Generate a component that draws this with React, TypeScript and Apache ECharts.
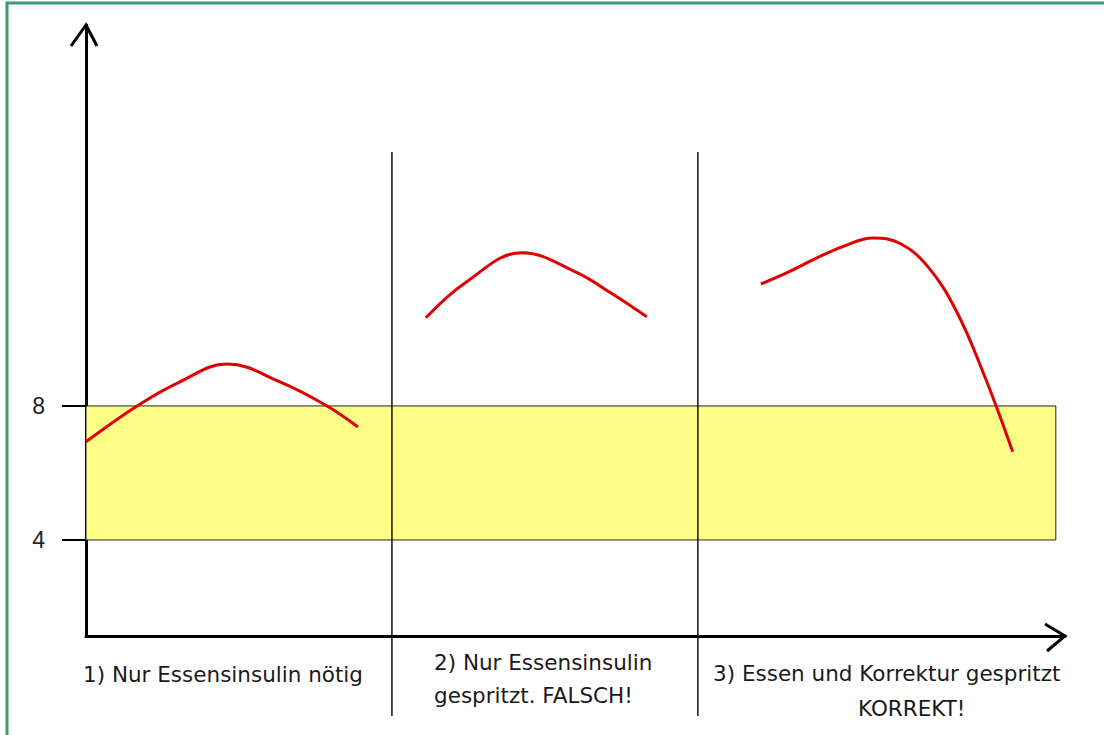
import React, { useEffect, useRef } from "react";
import * as echarts from "echarts";

// ---- data ----
const yTickValues = [4, 8];
const targetRange = [4, 8];
const sectionBounds = [10, 20];
const xMin = 0;
const xMax = 32;
const yMin = 1.134;
const yMax = 19.37;
const bandEnd = 31.7;
const dividerTop = 15.58;

const curve1X = [0, 1.67, 3.07, 4.61, 6.34, 7.88, 8.89];
const curve1Y = [6.93, 8.0, 8.72, 9.25, 8.72, 8.0, 7.37];
const curve2X = [11.11, 12.4, 14.25, 16.0, 17.16, 18.33];
const curve2Y = [10.63, 11.68, 12.57, 12.0, 11.37, 10.66];
const curve3X = [22.06, 22.97, 23.89, 24.8, 25.72, 26.63, 27.55, 28.46, 29.38, 30.29];
const curve3Y = [11.64, 12.0, 12.42, 12.78, 13.01, 12.84, 12.12, 10.81, 8.87, 6.63];

const sectionLabels = [
  ["1) Nur Essensinsulin nötig"],
  ["2) Nur Essensinsulin", "gespritzt. FALSCH!"],
  ["3) Essen und Korrektur gespritzt", "KORREKT!"],
];

const zip = (xs: number[], ys: number[]) => xs.map((x, i) => [x, ys[i]]);

const RED = "#e00000";
const FONT = "DejaVu Sans";

export default function App() {
  const ref = useRef<HTMLDivElement>(null);
  useEffect(() => {
    if (!ref.current) return;
    const chart = echarts.init(ref.current, null, { renderer: "svg" });
    const lineSeries = (name: string, data: number[][]) => ({
      name,
      type: "line",
      data,
      smooth: 0.4,
      showSymbol: false,
      symbol: "none",
      lineStyle: { color: RED, width: 3 },
      z: 5,
    });
    chart.setOption({
      animation: false,
      backgroundColor: "#ffffff",
      grid: { left: 86, right: 39, top: 25, bottom: 99, containLabel: false },
      xAxis: {
        type: "value",
        min: xMin,
        max: xMax,
        axisLine: { show: true, lineStyle: { color: "#000", width: 3 } },
        axisTick: { show: false },
        axisLabel: { show: false },
        splitLine: { show: false },
      },
      yAxis: {
        type: "value",
        min: yMin,
        max: yMax,
        axisLine: { show: true, lineStyle: { color: "#000", width: 3 } },
        axisTick: {
          show: true,
          length: 24,
          customValues: yTickValues,
          lineStyle: { color: "#000", width: 2 },
        },
        axisLabel: {
          show: true,
          customValues: yTickValues,
          margin: 41,
          color: "#222",
          fontFamily: "Liberation Sans",
          fontSize: 23,
        },
        splitLine: { show: false },
      },
      series: [
        {
          name: "band",
          type: "line",
          data: [],
          markArea: {
            silent: true,
            itemStyle: { color: "#ffff88", borderColor: "#222", borderWidth: 1 },
            data: [[{ xAxis: xMin, yAxis: targetRange[1] }, { xAxis: bandEnd, yAxis: targetRange[0] }]],
          },
          z: 1,
        },
        lineSeries("1", zip(curve1X, curve1Y)),
        lineSeries("2", zip(curve2X, curve2Y)),
        lineSeries("3", zip(curve3X, curve3Y)),
      ],
    });

    const px = (x: number, y: number) => chart.convertToPixel({ gridIndex: 0 }, [x, y]) as number[];
    const origin = px(xMin, yMin);
    const yTop = px(xMin, yMax);
    const xEnd = px(xMax, yMin);
    const graphics: any[] = [];
    // green frame
    graphics.push({
      type: "rect",
      shape: { x: 7, y: 3, width: 1200, height: 900 },
      style: { fill: "none", stroke: "#3d9b6e", lineWidth: 3 },
      silent: true,
    });
    // axis arrows
    graphics.push({
      type: "polyline",
      shape: { points: [[yTop[0] - 15, yTop[1] + 21], [yTop[0], yTop[1]], [yTop[0] + 11, yTop[1] + 21]] },
      style: { stroke: "#000", lineWidth: 3, fill: "none" },
    });
    graphics.push({
      type: "polyline",
      shape: { points: [[xEnd[0] - 20, xEnd[1] - 12], [xEnd[0], xEnd[1]], [xEnd[0] - 18, xEnd[1] + 15]] },
      style: { stroke: "#000", lineWidth: 3, fill: "none" },
    });
    // section dividers
    sectionBounds.forEach((b) => {
      const top = px(b, dividerTop);
      graphics.push({
        type: "line",
        shape: { x1: top[0], y1: top[1], x2: top[0], y2: origin[1] + 80 },
        style: { stroke: "#111", lineWidth: 1.5 },
        z: 10,
      });
    });
    // section labels
    const labelPos = [
      [[origin[0] - 3, origin[1] + 38]],
      [[434, origin[1] + 26], [434, origin[1] + 59]],
      [[713, origin[1] + 37], [858, origin[1] + 72]],
    ];
    sectionLabels.forEach((lines, i) => {
      lines.forEach((t, j) => {
        graphics.push({
          type: "text",
          x: labelPos[i][j][0],
          y: labelPos[i][j][1],
          style: {
            text: t,
            fill: "#1a1a1a",
            font: `21.5px "${FONT}"`,
            textVerticalAlign: "middle",
            textAlign: "left",
          },
        });
      });
    });
    chart.setOption({ graphic: graphics });
    return () => chart.dispose();
  }, []);
  return (
    <div
      ref={ref}
      style={{ position: "fixed", left: 0, top: 0, width: 1104, height: 735 }}
    />
  );
}
